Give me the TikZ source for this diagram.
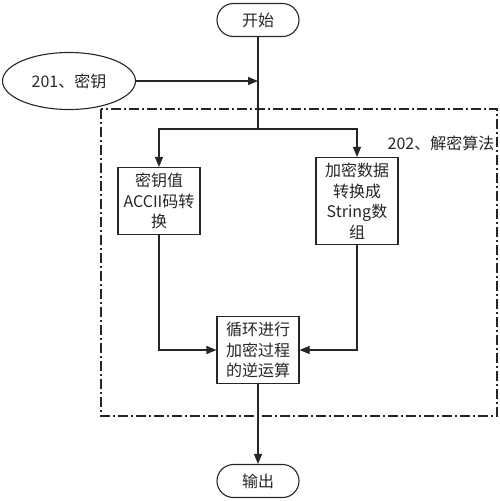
\documentclass[tikz,border=0pt]{standalone}
\usepackage{fontspec}
\newfontfamily\cjk{Noto Sans CJK SC}
\usepackage{tikz}
\usetikzlibrary{positioning}
\usetikzlibrary{arrows.meta}
\usetikzlibrary{shapes.geometric}
\usetikzlibrary{shapes.misc}

\tikzset{
  line/.style={draw=black!85, line width=1.1pt},
  arr/.style={line, -{Triangle[length=10pt,width=8pt]}},
  terminal/.style={line, rounded rectangle, minimum width=82pt, minimum height=33pt, inner sep=0pt},
  proc/.style={line, rectangle, align=center, inner sep=0pt, text width=82pt},
  group/.style={line, dash pattern=on 10pt off 3pt on 2pt off 3pt}
}

\begin{document}
\begin{tikzpicture}[x=1pt,y=-1pt, font=\cjk\fontsize{16}{20.5}\selectfont, text=black!85]
    \useasboundingbox (0,0) rectangle (500,501);
    % dash-dot frame of the decryption part
    \draw[group] (101,109) rectangle (497,416);
    \node (grouplabel) at (441,143) {202、解密算法};

    \node[terminal] (start) at (258,20) {开始};
    \node[line, ellipse, minimum width=133pt, minimum height=57pt, inner sep=0pt] (key) at (69,81) {201、密钥};
    \node[proc, minimum height=67pt] (keyval) at (159,201) {密钥值\\ACCII码转\\换};
    \node[proc, minimum height=87pt] (data) at (357,201) {加密数据\\转换成\\String数\\组};
    \node[proc, minimum height=67pt] (loop) at (258,350) {循环进行\\加密过程\\的逆运算};
    \node[terminal] (out) at (258,481) {输出};

    \coordinate (keyin) at (key.east -| start.south);
    \coordinate (split) at (258,129);
    \draw[arr] (key.east) -- (keyin);
    \draw[line] (start.south) -- (split);
    \draw[arr] (split) -| (keyval.north);
    \draw[arr] (split) -| (data.north);
    \draw[arr] (keyval.south) |- (loop.west);
    \draw[arr] (data.south) |- (loop.east);
    \draw[arr] (loop.south) -- (out.north);
\end{tikzpicture}
\end{document}
